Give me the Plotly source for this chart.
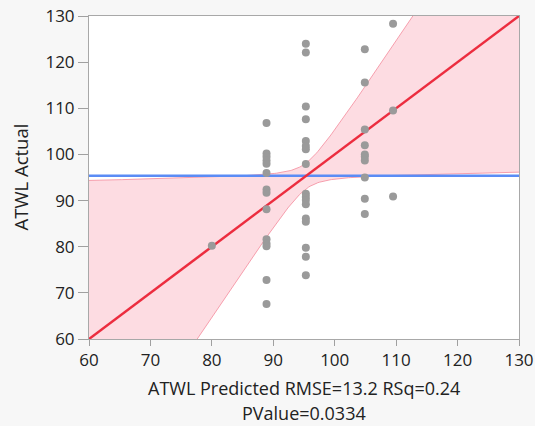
import numpy as np
import plotly.graph_objects as go

# ---- data ----
pred_80 = [80.0]
act_80 = [80.2]
pred_89 = [88.9] * 14
act_89 = [106.8, 100.2, 99.5, 98.7, 98.0, 96.0, 92.4, 91.7, 88.1, 81.6, 80.7, 80.1, 72.8, 67.6]
pred_95 = [95.3] * 17
act_95 = [124.0, 122.1, 110.4, 107.6, 102.9, 101.8, 101.1, 97.9, 91.5, 90.8, 90.1, 89.2, 86.1, 85.4, 79.8, 77.8, 73.8]
pred_105 = [104.9] * 10
act_105 = [122.8, 115.6, 105.4, 102.0, 100.0, 99.5, 98.7, 95.0, 90.4, 87.1]
pred_110 = [109.5] * 3
act_110 = [128.3, 109.5, 90.9]

predicted = pred_80 + pred_89 + pred_95 + pred_105 + pred_110
actual = act_80 + act_89 + act_95 + act_105 + act_110

mean_actual = 95.4          # horizontal mean line
band_center = 95.3          # confidence curves centre
band_min_half = 2.8         # half width at centre
band_slope = 0.97           # asymptotic slope of half width

x_ticks = [60, 70, 80, 90, 100, 110, 120, 130]
y_ticks = [60, 70, 80, 90, 100, 110, 120, 130]
x_title_lines = ["ATWL Predicted RMSE=13.2 RSq=0.24", "PValue=0.0334"]
y_title = "ATWL Actual"

# ---- derived curves ----
xs = np.linspace(40, 150, 441)
half = np.sqrt(band_min_half ** 2 + (band_slope * (xs - band_center)) ** 2)
upper = xs + half
lower = xs - half

FONT = "Open Sans"
TXT = "#222"
fig = go.Figure()
fig.add_trace(go.Scatter(x=xs, y=lower, mode="lines",
                         line=dict(color="rgba(245,150,165,0.9)", width=1),
                         hoverinfo="skip", showlegend=False))
fig.add_trace(go.Scatter(x=xs, y=upper, mode="lines", fill="tonexty",
                         fillcolor="rgba(252,208,216,0.75)",
                         line=dict(color="rgba(245,150,165,0.9)", width=1),
                         hoverinfo="skip", showlegend=False))
fig.add_trace(go.Scatter(x=[x_ticks[0], x_ticks[-1]], y=[mean_actual, mean_actual],
                         mode="lines", line=dict(color="#5b8cf5", width=2.5),
                         showlegend=False))
fig.add_trace(go.Scatter(x=[x_ticks[0], x_ticks[-1]], y=[y_ticks[0], y_ticks[-1]],
                         mode="lines", line=dict(color="#ec2d3f", width=2.5),
                         showlegend=False))
fig.add_trace(go.Scatter(x=predicted, y=actual, mode="markers",
                         marker=dict(color="#9a9a9a", size=8),
                         showlegend=False))

fig.update_layout(
    width=535, height=426,
    margin=dict(l=89, r=16, t=16, b=87),
    paper_bgcolor="#f7f7f7", plot_bgcolor="white",
    font=dict(family=FONT, size=16, color=TXT),
)
fig.update_xaxes(range=[60, 130], tickvals=x_ticks, ticks="outside", ticklen=6,
                 tickcolor="#a0a0a0", showgrid=False, zeroline=False,
                 showline=True, linecolor="#a8a8a8", mirror=True,
                 tickfont=dict(size=17), automargin=False)
fig.update_yaxes(range=[60, 130], tickvals=y_ticks, ticks="outside", ticklen=10,
                 tickcolor="#a0a0a0", showgrid=False, zeroline=False,
                 showline=True, linecolor="#a8a8a8", mirror=True,
                 tickfont=dict(size=17), automargin=False)

fig.add_annotation(text=x_title_lines[0], xref="paper", yref="paper", x=0.5, y=0,
                   yanchor="middle", yshift=-49, showarrow=False, borderpad=0,
                   font=dict(size=18, family=FONT, color=TXT))
fig.add_annotation(text=x_title_lines[1], xref="paper", yref="paper", x=0.5, y=0,
                   yanchor="middle", yshift=-74, showarrow=False, borderpad=0,
                   font=dict(size=18, family=FONT, color=TXT))
fig.add_annotation(text=y_title, xref="paper", yref="paper", x=0, y=0.5,
                   xanchor="center", yanchor="middle", xshift=-69, textangle=-90,
                   showarrow=False, font=dict(size=18.5, family=FONT, color=TXT))

fig.write_html("out.html")
